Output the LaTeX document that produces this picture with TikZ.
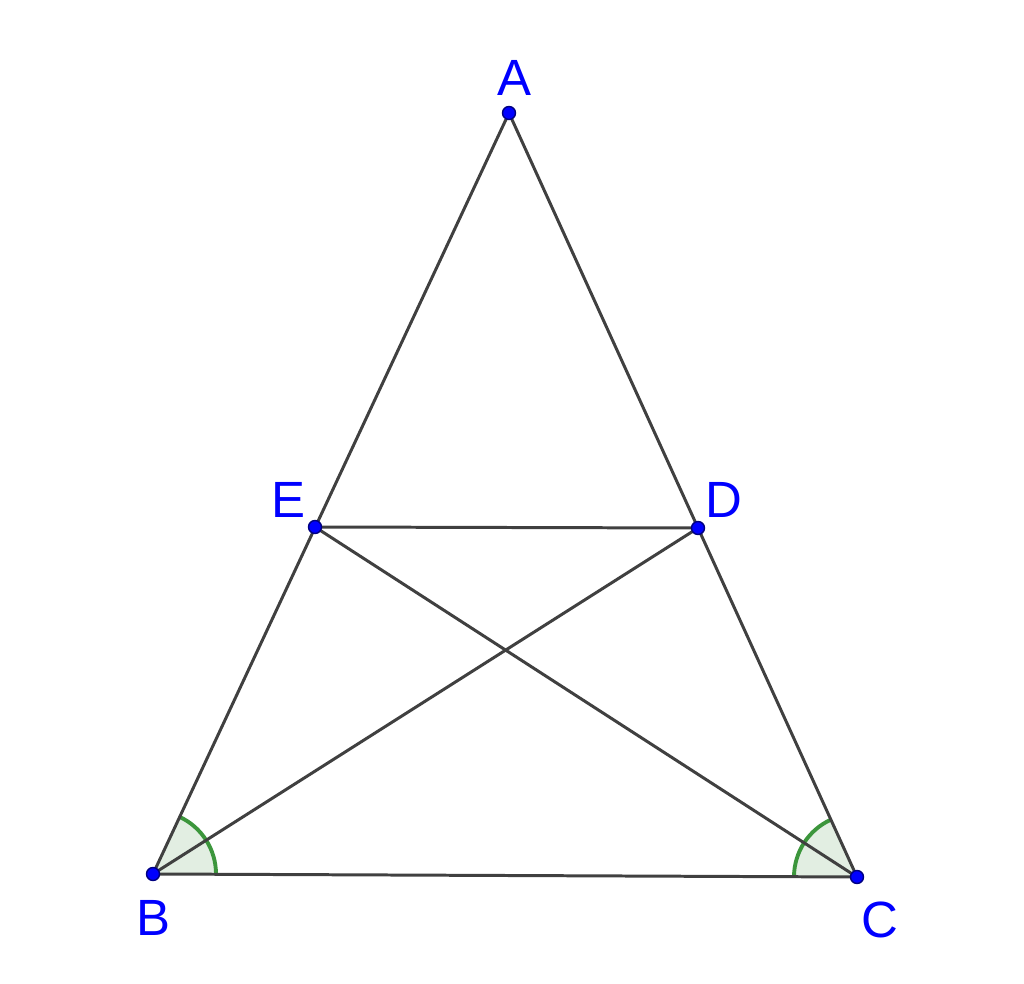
\documentclass[tikz,border=0pt]{standalone}
\usepackage{fontspec}
\setmainfont{Liberation Sans}
\usetikzlibrary{angles}
\definecolor{segcol}{RGB}{64,64,64}
\definecolor{ptblue}{RGB}{0,0,255}
\definecolor{angcol}{RGB}{60,150,60}
\definecolor{angfill}{RGB}{226,238,226}
\tikzset{
	seg/.style={segcol, line width=0.85pt},
	ptlabel/.style={text=ptblue, font=\fontsize{14.5}{16}\selectfont, inner sep=0pt},
	angmark/.style={draw=angcol, fill=angfill, line width=1.1pt, angle radius=0.63cm}
}

\begin{document}
\begin{tikzpicture}
\useasboundingbox (0,0) rectangle (10.24,9.84);
\coordinate (A) at (5.09,8.71);
\coordinate (B) at (1.53,1.10);
\coordinate (C) at (8.57,1.07);
\coordinate (E) at (3.15,4.57);
\coordinate (D) at (6.98,4.56);

% angles at the base
\pic[angmark] {angle = C--B--A};
\pic[angmark] {angle = A--C--B};

% triangle and inner segments
\draw[seg] (A) -- (B) -- (C) -- cycle;
\draw[seg] (E) -- (D);
\draw[seg] (B) -- (D);
\draw[seg] (C) -- (E);

\foreach \p in {A,B,C,D,E}{
	\filldraw[fill=ptblue, draw=ptblue!50!black, line width=0.4pt] (\p) circle (0.065);
}

\node[ptlabel] (lA) at (5.14,9.06) {A};
\node[ptlabel] (lB) at (1.53,0.66) {B};
\node[ptlabel] (lC) at (8.80,0.64) {C};
\node[ptlabel] (lD) at (7.24,4.84) {D};
\node[ptlabel] (lE) at (2.88,4.84) {E};
\end{tikzpicture}
\end{document}
